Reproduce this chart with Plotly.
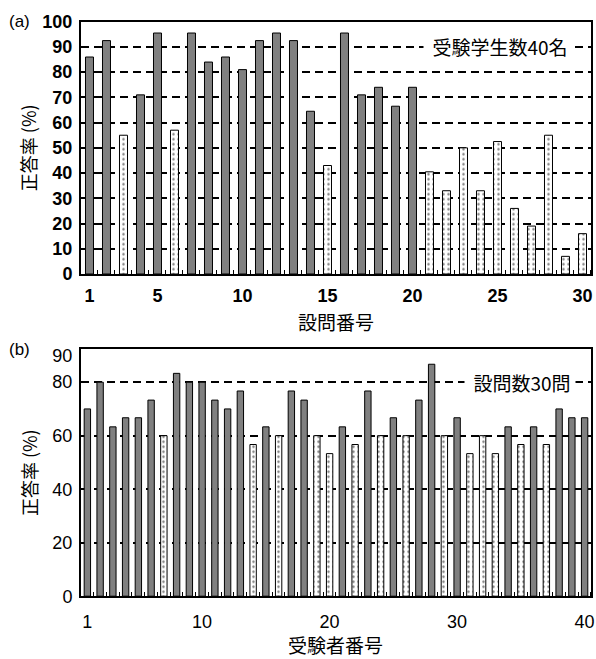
import plotly.graph_objects as go

# ---------------- data ----------------
questions = list(range(1, 31))
rate_a = [86, 92.5, 55, 71, 95.5, 57, 95.5, 84, 86, 81,
          92.5, 95.5, 92.5, 64.5, 43, 95.5, 71, 74, 66.5, 74,
          40.5, 33, 50, 33, 52.5, 26, 19, 55, 7, 16]

examinees = list(range(1, 41))
rate_b = [70, 80, 63.3, 66.7, 66.7, 73.3, 60, 83.3, 80, 80,
          73.3, 70, 76.7, 56.7, 63.3, 60, 76.7, 73.3, 60, 53.3,
          63.3, 56.7, 76.7, 60, 66.7, 60, 73.3, 86.7, 60, 66.7,
          53.3, 60, 53.3, 63.3, 56.7, 63.3, 56.7, 70, 66.7, 66.7]

threshold = 60  # bars at or below this are drawn dotted

xticks_a = [1, 5, 10, 15, 20, 25, 30]
yticks_a = list(range(0, 101, 10))
ygrid_a = list(range(10, 100, 10))
xticks_b = [1, 10, 20, 30, 40]
yticks_b = [0, 20, 40, 60, 80, 90]
ygrid_b = [20, 40, 60, 80]

note_a = "受験学生数40名"
note_b = "設問数30問"
xtitle_a = "設問番号"
xtitle_b = "受験者番号"
ytitle = "正答率 (%)"

# ---------------- styles ----------------
GRAY = "#808080"
NUM = "Liberation Sans, Arial"
CJK = "Noto Sans CJK JP"
NBSP = "\u00a0"


def split(xs, ys):
    hi = [(x, y) for x, y in zip(xs, ys) if y > threshold]
    lo = [(x, y) for x, y in zip(xs, ys) if y <= threshold]
    return hi, lo


fig = go.Figure()

for xs, ys, xa, ya, w in [(questions, rate_a, "x", "y", 0.47),
                          (examinees, rate_b, "x2", "y2", 0.5)]:
    hi, lo = split(xs, ys)
    fig.add_trace(go.Bar(
        x=[p[0] for p in hi], y=[p[1] for p in hi], width=w,
        marker=dict(color=GRAY, line=dict(color="black", width=1)),
        xaxis=xa, yaxis=ya, showlegend=False, hoverinfo="skip"))
    fig.add_trace(go.Bar(
        x=[p[0] for p in lo], y=[p[1] for p in lo], width=w,
        marker=dict(color="white", line=dict(color="black", width=1),
                    pattern=dict(shape=".", fgcolor="black", bgcolor="white",
                                 size=5, solidity=0.18)),
        xaxis=xa, yaxis=ya, showlegend=False, hoverinfo="skip"))

frame = dict(showline=True, linecolor="black", linewidth=2, mirror=True,
             ticks="", showgrid=False, zeroline=False, automargin=False)
xminor = dict(ticks="inside", tick0=0.5, dtick=1, ticklen=4,
              tickcolor="black", tickwidth=1)
grid_style = dict(showgrid=True, griddash="8px,5px", gridcolor="black",
                  gridwidth=1.8, ticks="")
xtitle_font = dict(family=CJK, size=19, color="black")
ytitle_font = dict(family=CJK, size=18, color="black")

XDOM = [0.1359, 0.9916]

fig.update_layout(
    width=596, height=659,
    margin=dict(l=0, r=0, t=0, b=0, autoexpand=False),
    paper_bgcolor="white", plot_bgcolor="white",
    barmode="overlay",
    xaxis=dict(frame, domain=XDOM, range=[0.5, 30.5],
               tickvals=xticks_a, anchor="y", ticklabelstandoff=4,
               tickfont=dict(family=NUM, size=18, color="black", weight="bold"),
               minor=xminor,
               title=dict(text=xtitle_a, font=xtitle_font, standoff=12)),
    yaxis=dict(frame, domain=[0.5842, 0.9671], range=[0, 100],
               tickvals=yticks_a, anchor="x", ticklabelstandoff=3,
               tickfont=dict(family=NUM, size=18, color="black", weight="bold"),
               minor=dict(grid_style, tickvals=ygrid_a),
               title=dict(text=ytitle, font=ytitle_font, standoff=1)),
    xaxis2=dict(frame, domain=XDOM, range=[0.5, 40.5],
                tickvals=xticks_b, anchor="y2", ticklabelstandoff=8,
                tickfont=dict(family=NUM, size=18, color="black"),
                minor=xminor),
    yaxis2=dict(frame, domain=[0.0953, 0.4700], range=[0, 92.3],
                tickvals=yticks_b, anchor="x2", ticklabelstandoff=3,
                tickfont=dict(family=NUM, size=18, color="black"),
                minor=dict(grid_style, tickvals=ygrid_b),
                title=dict(text=ytitle, font=ytitle_font, standoff=10)),
)

# x title of panel (b), kept fully inside the bottom edge of the figure
fig.add_annotation(xref="paper", yref="paper", x=sum(XDOM) / 2, y=0.0,
                   text=xtitle_b, showarrow=False, xanchor="center", yanchor="bottom",
                   borderpad=0, font=xtitle_font)

fig.add_annotation(xref="x", yref="y", x=20.6, y=90,
                   text=NBSP * 2 + note_a + NBSP, showarrow=False,
                   xanchor="left", yanchor="middle", bgcolor="white", borderpad=0,
                   font=dict(family=CJK, size=19, color="black"))
fig.add_annotation(xref="x2", yref="y2", x=30.56, y=80,
                   text=NBSP * 2 + note_b + NBSP, showarrow=False,
                   xanchor="left", yanchor="middle", bgcolor="white", borderpad=0,
                   font=dict(family=CJK, size=19, color="black"))
fig.add_annotation(xref="paper", yref="paper", x=0.012, y=0.9674, text="(a)",
                   showarrow=False, xanchor="left", yanchor="middle",
                   font=dict(family=NUM, size=17, color="black"))
fig.add_annotation(xref="paper", yref="paper", x=0.011, y=0.4689, text="(b)",
                   showarrow=False, xanchor="left", yanchor="middle",
                   font=dict(family=NUM, size=17, color="black"))

# the page's default 8px body margin would shift the fixed-size figure
fig.write_html("out.html", config={"displayModeBar": False},
               post_script="document.body.style.margin='0';")
